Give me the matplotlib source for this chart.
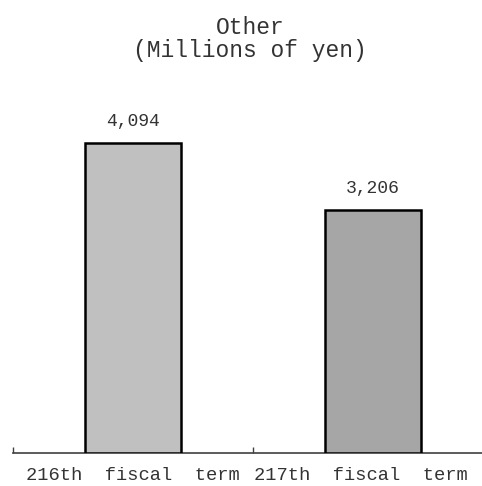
import matplotlib
matplotlib.use("Agg")
import matplotlib.pyplot as plt
import matplotlib.transforms as mtransforms

categories = ["216th  fiscal  term", "217th  fiscal  term"]
values = [4094, 3206]
bar_colors = ["#c0c0c0", "#a6a6a6"]
title_lines = ["Other", "(Millions of yen)"]

plt.rcParams["font.family"] = ["Liberation Mono", "DejaVu Sans Mono"]
text_color = "#333333"

W, H = 482, 486
fig = plt.figure(figsize=(W / 100, H / 100), dpi=100)
# axis runs from x=13px to past the right edge, baseline at y=453px
ax = fig.add_axes([13 / W, (H - 453) / H, 480 / W, 348 / H])

xs = list(range(len(values)))
bars = ax.bar(xs, values, width=0.4, color=bar_colors,
              edgecolor="black", linewidth=1.8, zorder=3)

for x, v in zip(xs, values):
    ax.annotate(f"{v:,}", (x, v), xytext=(0, 16), textcoords="offset points",
                ha="center", va="center", fontsize=13, color=text_color)

ax.set_xlim(-0.5, 1.5)
ax.set_ylim(0, 4600)

for side in ["top", "right", "left"]:
    ax.spines[side].set_visible(False)
ax.spines["bottom"].set_color("#404040")
ax.spines["bottom"].set_linewidth(1.2)
ax.set_yticks([])

# category boundaries get short inward ticks, labels sit at bar centres
ax.set_xticks([-0.5, 0.5, 1.5])
ax.set_xticklabels([])
ax.tick_params(axis="x", which="major", direction="in", length=4,
               width=1, color="#404040")
ax.set_xticks(xs, minor=True)
ax.set_xticklabels(categories, minor=True, fontsize=13.5, color=text_color)
ax.tick_params(axis="x", which="minor", length=0, pad=10)

# last label would run off the right edge, pull it back in
last = ax.get_xticklabels(minor=True)[-1]
shift = mtransforms.ScaledTranslation(-12 / 100, 0, fig.dpi_scale_trans)
last.set_transform(last.get_transform() + shift)

fig.text(250 / W, 1 - 28 / H, title_lines[0], ha="center", va="center",
         fontsize=16.5, color=text_color)
fig.text(250 / W, 1 - 50 / H, title_lines[1], ha="center", va="center",
         fontsize=16.5, color=text_color)

fig.savefig("out.png", dpi=100)
